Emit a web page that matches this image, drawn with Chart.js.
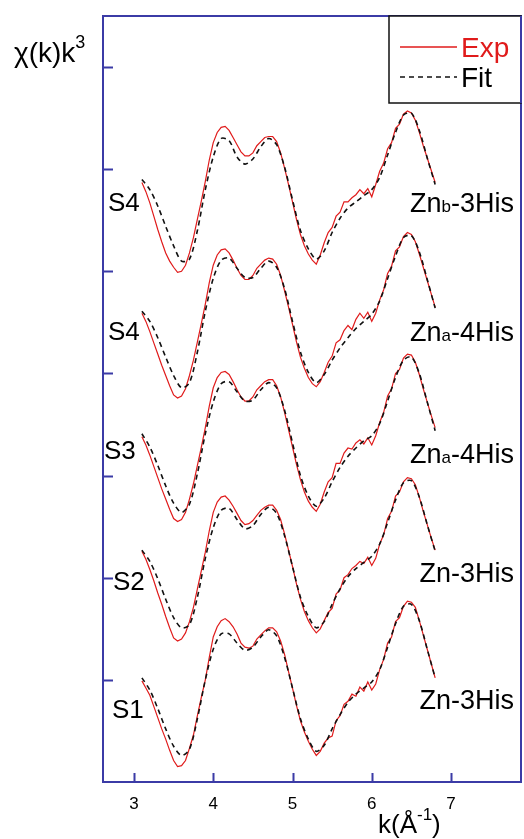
<!DOCTYPE html>
<html>
<head>
<meta charset="utf-8">
<script src="https://cdn.jsdelivr.net/npm/chart.js@4.4.1/dist/chart.umd.min.js"></script>
<style>
  html, body { margin: 0; padding: 0; background: #fff; }
  #wrap { width: 524px; height: 839px; }
</style>
</head>
<body>
<div id="wrap"><canvas id="chart" width="524" height="839"></canvas></div>
<script>
// k grid (Å^-1) for the experimental spectra and for the fits
const K_EXP = [3.10,3.15,3.20,3.25,3.30,3.35,3.40,3.45,3.50,3.55,3.60,3.65,3.70,3.75,3.80,3.85,3.90,3.95,4.00,4.05,
  4.10,4.15,4.20,4.25,4.30,4.35,4.40,4.45,4.50,4.55,4.60,4.65,4.70,4.75,4.80,4.85,4.90,4.95,5.00,5.05,
  5.10,5.15,5.20,5.25,5.30,5.35,5.40,5.45,5.50,5.55,5.60,5.65,5.70,5.75,5.80,5.85,5.90,5.95,6.00,6.05,
  6.10,6.15,6.20,6.25,6.30,6.35,6.40,6.45,6.50,6.55,6.60,6.65,6.70,6.75,6.80];
const K_FIT = [3.1,3.2,3.3,3.4,3.5,3.6,3.7,3.8,3.9,4.0,4.1,4.2,4.3,4.4,4.5,4.6,4.7,4.8,4.9,
  5.0,5.1,5.2,5.3,5.4,5.5,5.6,5.7,5.8,5.9,6.0,6.1,6.2,6.3,6.4,6.5,6.6,6.7,6.8];

// chi(k)k^3, each spectrum relative to its own baseline (bottom row first)
const exp_S1 = [0.99,0.92,0.85,0.74,0.63,0.52,0.42,0.31,0.21,0.15,0.16,0.21,0.33,0.46,0.65,0.83,1.00,1.22,1.42,1.52,
  1.58,1.60,1.57,1.52,1.45,1.36,1.32,1.31,1.33,1.40,1.44,1.48,1.51,1.51,1.47,1.38,1.25,1.08,0.92,0.75,
  0.60,0.49,0.40,0.32,0.26,0.30,0.38,0.43,0.45,0.60,0.65,0.76,0.79,0.86,0.84,0.93,0.89,0.98,0.90,0.96,
  1.10,1.20,1.36,1.42,1.57,1.61,1.72,1.77,1.76,1.71,1.58,1.44,1.30,1.16,1.02];
const fit_S1 = [1.02,0.90,0.72,0.52,0.35,0.26,0.32,0.62,1.00,1.30,1.45,1.45,1.36,1.29,1.32,1.42,1.49,1.43,1.22,
  0.92,0.62,0.42,0.30,0.36,0.52,0.66,0.78,0.86,0.92,0.98,1.10,1.32,1.55,1.72,1.74,1.58,1.30,1.02];

const exp_S2 = [1.05,0.97,0.87,0.76,0.64,0.53,0.41,0.30,0.20,0.17,0.19,0.25,0.36,0.50,0.68,0.86,1.04,1.25,1.43,1.53,
  1.58,1.59,1.55,1.49,1.42,1.35,1.31,1.32,1.35,1.40,1.45,1.48,1.50,1.50,1.45,1.36,1.22,1.06,0.90,0.73,
  0.58,0.46,0.37,0.30,0.25,0.29,0.37,0.45,0.49,0.63,0.67,0.79,0.82,0.88,0.91,0.95,0.93,0.99,0.91,0.98,
  1.12,1.21,1.37,1.44,1.59,1.63,1.73,1.77,1.76,1.70,1.58,1.44,1.31,1.18,1.06];
const fit_S2 = [1.06,0.95,0.78,0.58,0.40,0.30,0.33,0.60,0.98,1.28,1.45,1.47,1.36,1.27,1.30,1.41,1.48,1.42,1.20,
  0.90,0.60,0.41,0.30,0.36,0.53,0.68,0.80,0.88,0.94,1.00,1.12,1.33,1.55,1.72,1.74,1.58,1.31,1.05];

const exp_S3 = [0.96,0.88,0.78,0.67,0.56,0.45,0.35,0.25,0.16,0.13,0.15,0.22,0.35,0.50,0.68,0.86,1.05,1.26,1.44,1.54,
  1.59,1.60,1.57,1.50,1.42,1.35,1.31,1.31,1.35,1.42,1.46,1.50,1.52,1.52,1.46,1.35,1.20,1.03,0.86,0.69,
  0.54,0.42,0.33,0.27,0.23,0.30,0.42,0.52,0.56,0.70,0.70,0.80,0.85,0.84,0.90,0.93,0.89,0.95,0.88,0.97,
  1.10,1.20,1.36,1.43,1.58,1.62,1.73,1.77,1.76,1.69,1.57,1.43,1.30,1.17,1.05];
const fit_S3 = [0.99,0.86,0.68,0.48,0.31,0.22,0.30,0.60,0.99,1.30,1.48,1.50,1.40,1.31,1.32,1.42,1.49,1.44,1.22,
  0.90,0.58,0.38,0.28,0.36,0.52,0.66,0.77,0.85,0.92,0.97,1.09,1.31,1.54,1.71,1.74,1.58,1.30,1.02];

const exp_S4 = [0.98,0.90,0.80,0.69,0.58,0.47,0.37,0.27,0.18,0.15,0.17,0.24,0.37,0.52,0.70,0.88,1.07,1.28,1.45,1.55,
  1.60,1.61,1.57,1.50,1.42,1.35,1.31,1.31,1.35,1.42,1.46,1.50,1.52,1.51,1.46,1.35,1.20,1.04,0.87,0.70,
  0.55,0.44,0.35,0.29,0.26,0.31,0.40,0.50,0.56,0.69,0.72,0.81,0.86,0.82,0.92,0.98,0.93,0.99,0.90,0.98,
  1.11,1.21,1.37,1.44,1.59,1.63,1.73,1.77,1.75,1.68,1.56,1.43,1.30,1.17,1.04];
const fit_S4 = [1.00,0.90,0.74,0.55,0.37,0.25,0.30,0.60,1.00,1.32,1.50,1.52,1.42,1.33,1.33,1.42,1.49,1.43,1.22,
  0.90,0.60,0.40,0.30,0.38,0.52,0.64,0.74,0.83,0.90,0.97,1.10,1.32,1.54,1.72,1.74,1.58,1.31,1.03];

const exp_S4b = [1.07,0.98,0.87,0.74,0.61,0.49,0.38,0.30,0.24,0.19,0.20,0.26,0.38,0.53,0.71,0.89,1.08,1.29,1.46,1.56,
  1.61,1.62,1.58,1.51,1.44,1.37,1.33,1.33,1.36,1.43,1.47,1.51,1.52,1.52,1.47,1.36,1.21,1.05,0.88,0.71,
  0.56,0.45,0.37,0.31,0.27,0.36,0.48,0.58,0.63,0.74,0.78,0.88,0.88,0.92,0.95,1.00,0.96,1.01,0.93,1.05,
  1.18,1.26,1.40,1.46,1.60,1.64,1.74,1.77,1.75,1.68,1.56,1.43,1.31,1.19,1.07];
const fit_S4b = [1.10,1.00,0.84,0.64,0.45,0.30,0.32,0.60,1.00,1.32,1.50,1.48,1.32,1.25,1.30,1.42,1.50,1.44,1.22,
  0.90,0.60,0.42,0.32,0.40,0.58,0.72,0.82,0.88,0.94,1.00,1.12,1.34,1.56,1.73,1.75,1.58,1.31,1.05];

// vertical offsets used to stack the spectra
const OFFSETS = [0, 1.21, 2.42, 3.61, 4.80];
const EXP_ROWS = [exp_S1, exp_S2, exp_S3, exp_S4, exp_S4b];
const FIT_ROWS = [fit_S1, fit_S2, fit_S3, fit_S4, fit_S4b];

// row labels
const SAMPLE_NAMES = ['S1', 'S2', 'S3', 'S4', 'S4'];
const SITE_MAIN = ['Zn', 'Zn', 'Zn', 'Zn', 'Zn'];
const SITE_SUB = ['', '', 'a', 'a', 'b'];
const SITE_REST = ['-3His', '-3His', '-4His', '-4His', '-3His'];

const X_TICKS = [3, 4, 5, 6, 7];
const Y_TICKS = [1, 2, 3, 4, 5, 6, 7];

const AXIS_BLUE = '#3b3ba6';
const RED = '#e01b1b';
const FONT = '"Liberation Sans", Arial, sans-serif';

const datasets = [];
for (let r = 0; r < EXP_ROWS.length; r++) {
  datasets.push({
    label: 'Fit',
    data: K_FIT.map((k, i) => ({ x: k, y: FIT_ROWS[r][i] + OFFSETS[r] })),
    borderColor: '#111',
    borderWidth: 1.6,
    borderDash: [5, 4],
    tension: 0.3,
    pointRadius: 0,
    order: 0
  });
  datasets.push({
    label: 'Exp',
    data: K_EXP.map((k, i) => ({ x: k, y: EXP_ROWS[r][i] + OFFSETS[r] })),
    borderColor: RED,
    borderWidth: 1.2,
    tension: 0,
    pointRadius: 0,
    order: 1
  });
}

// text with a superscript / subscript part
function partsText(ctx, parts, x, y, align) {
  let w = 0;
  parts.forEach(p => { ctx.font = p.size + 'px ' + FONT; w += ctx.measureText(p.t).width; });
  let cx = align === 'right' ? x - w : x;
  parts.forEach(p => {
    ctx.font = p.size + 'px ' + FONT;
    ctx.fillStyle = p.color || '#000';
    ctx.fillText(p.t, cx, y + (p.dy || 0));
    cx += ctx.measureText(p.t).width;
  });
}

const frame = {
  id: 'frame',
  afterDraw(chart) {
    const ctx = chart.ctx;
    const a = chart.chartArea;
    const xs = chart.scales.x, ys = chart.scales.y;
    ctx.save();
    ctx.textBaseline = 'alphabetic';

    // box
    ctx.strokeStyle = AXIS_BLUE;
    ctx.lineWidth = 2;
    ctx.strokeRect(a.left, a.top, a.right - a.left, a.bottom - a.top);

    // inward ticks
    ctx.beginPath();
    X_TICKS.forEach(t => {
      const px = Math.round(xs.getPixelForValue(t)) + 0.5;
      ctx.moveTo(px, a.bottom); ctx.lineTo(px, a.bottom - 9);
    });
    Y_TICKS.forEach(t => {
      const py = Math.round(ys.getPixelForValue(t)) + 0.5;
      ctx.moveTo(a.left, py); ctx.lineTo(a.left + 10, py);
    });
    ctx.stroke();

    // x tick labels
    ctx.fillStyle = '#000';
    ctx.font = '17px ' + FONT;
    ctx.textAlign = 'center';
    X_TICKS.forEach(t => ctx.fillText(String(t), xs.getPixelForValue(t), 809));
    ctx.textAlign = 'left';

    // axis titles
    partsText(ctx, [{ t: 'χ(k)k', size: 28 }, { t: '3', size: 18, dy: -14 }], 14, 62, 'left');
    partsText(ctx, [{ t: 'k(Å', size: 26 }, { t: '-1', size: 17, dy: -13 }, { t: ')', size: 26 }], 378, 833, 'left');

    // row labels
    const sY = [718, 590, 459, 340, 211];
    const sX = [112, 113, 104, 108, 108];
    const zY = [709, 582, 463, 341, 212];
    for (let r = 0; r < SAMPLE_NAMES.length; r++) {
      ctx.font = '26px ' + FONT;
      ctx.fillStyle = '#000';
      ctx.fillText(SAMPLE_NAMES[r], sX[r], sY[r]);
      partsText(ctx, [
        { t: SITE_MAIN[r], size: 27 },
        { t: SITE_SUB[r], size: 17 },
        { t: SITE_REST[r], size: 27 }
      ], 514, zY[r], 'right');
    }

    // legend box
    ctx.fillStyle = '#fff';
    ctx.fillRect(389, a.top, a.right - 389, 87);
    ctx.strokeStyle = '#111';
    ctx.lineWidth = 1.5;
    ctx.strokeRect(389, a.top, a.right - 389, 87);
    ctx.strokeStyle = AXIS_BLUE;
    ctx.lineWidth = 2;
    ctx.beginPath(); ctx.moveTo(a.right, a.top); ctx.lineTo(a.right, a.top + 87); ctx.stroke();

    ctx.lineWidth = 1.3;
    ctx.strokeStyle = RED;
    ctx.beginPath(); ctx.moveTo(400, 47); ctx.lineTo(457, 47); ctx.stroke();
    ctx.strokeStyle = '#111';
    ctx.setLineDash([5, 4]);
    ctx.lineWidth = 1.6;
    ctx.beginPath(); ctx.moveTo(400, 77); ctx.lineTo(457, 77); ctx.stroke();
    ctx.setLineDash([]);
    ctx.font = '28px ' + FONT;
    ctx.fillStyle = RED;
    ctx.fillText('Exp', 461, 57);
    ctx.fillStyle = '#000';
    ctx.fillText('Fit', 461, 87);
    ctx.restore();
  }
};

new Chart(document.getElementById('chart'), {
  type: 'line',
  data: { datasets },
  options: {
    responsive: false,
    animation: false,
    devicePixelRatio: 1,
    layout: { padding: { left: 103, top: 16, right: 3, bottom: 57 } },
    scales: {
      x: { type: 'linear', min: 2.609, max: 7.883, display: false },
      y: { type: 'linear', min: 0, max: 7.5, display: false }
    },
    plugins: { legend: { display: false }, tooltip: { enabled: false } }
  },
  plugins: [frame]
});
</script>
</body>
</html>
